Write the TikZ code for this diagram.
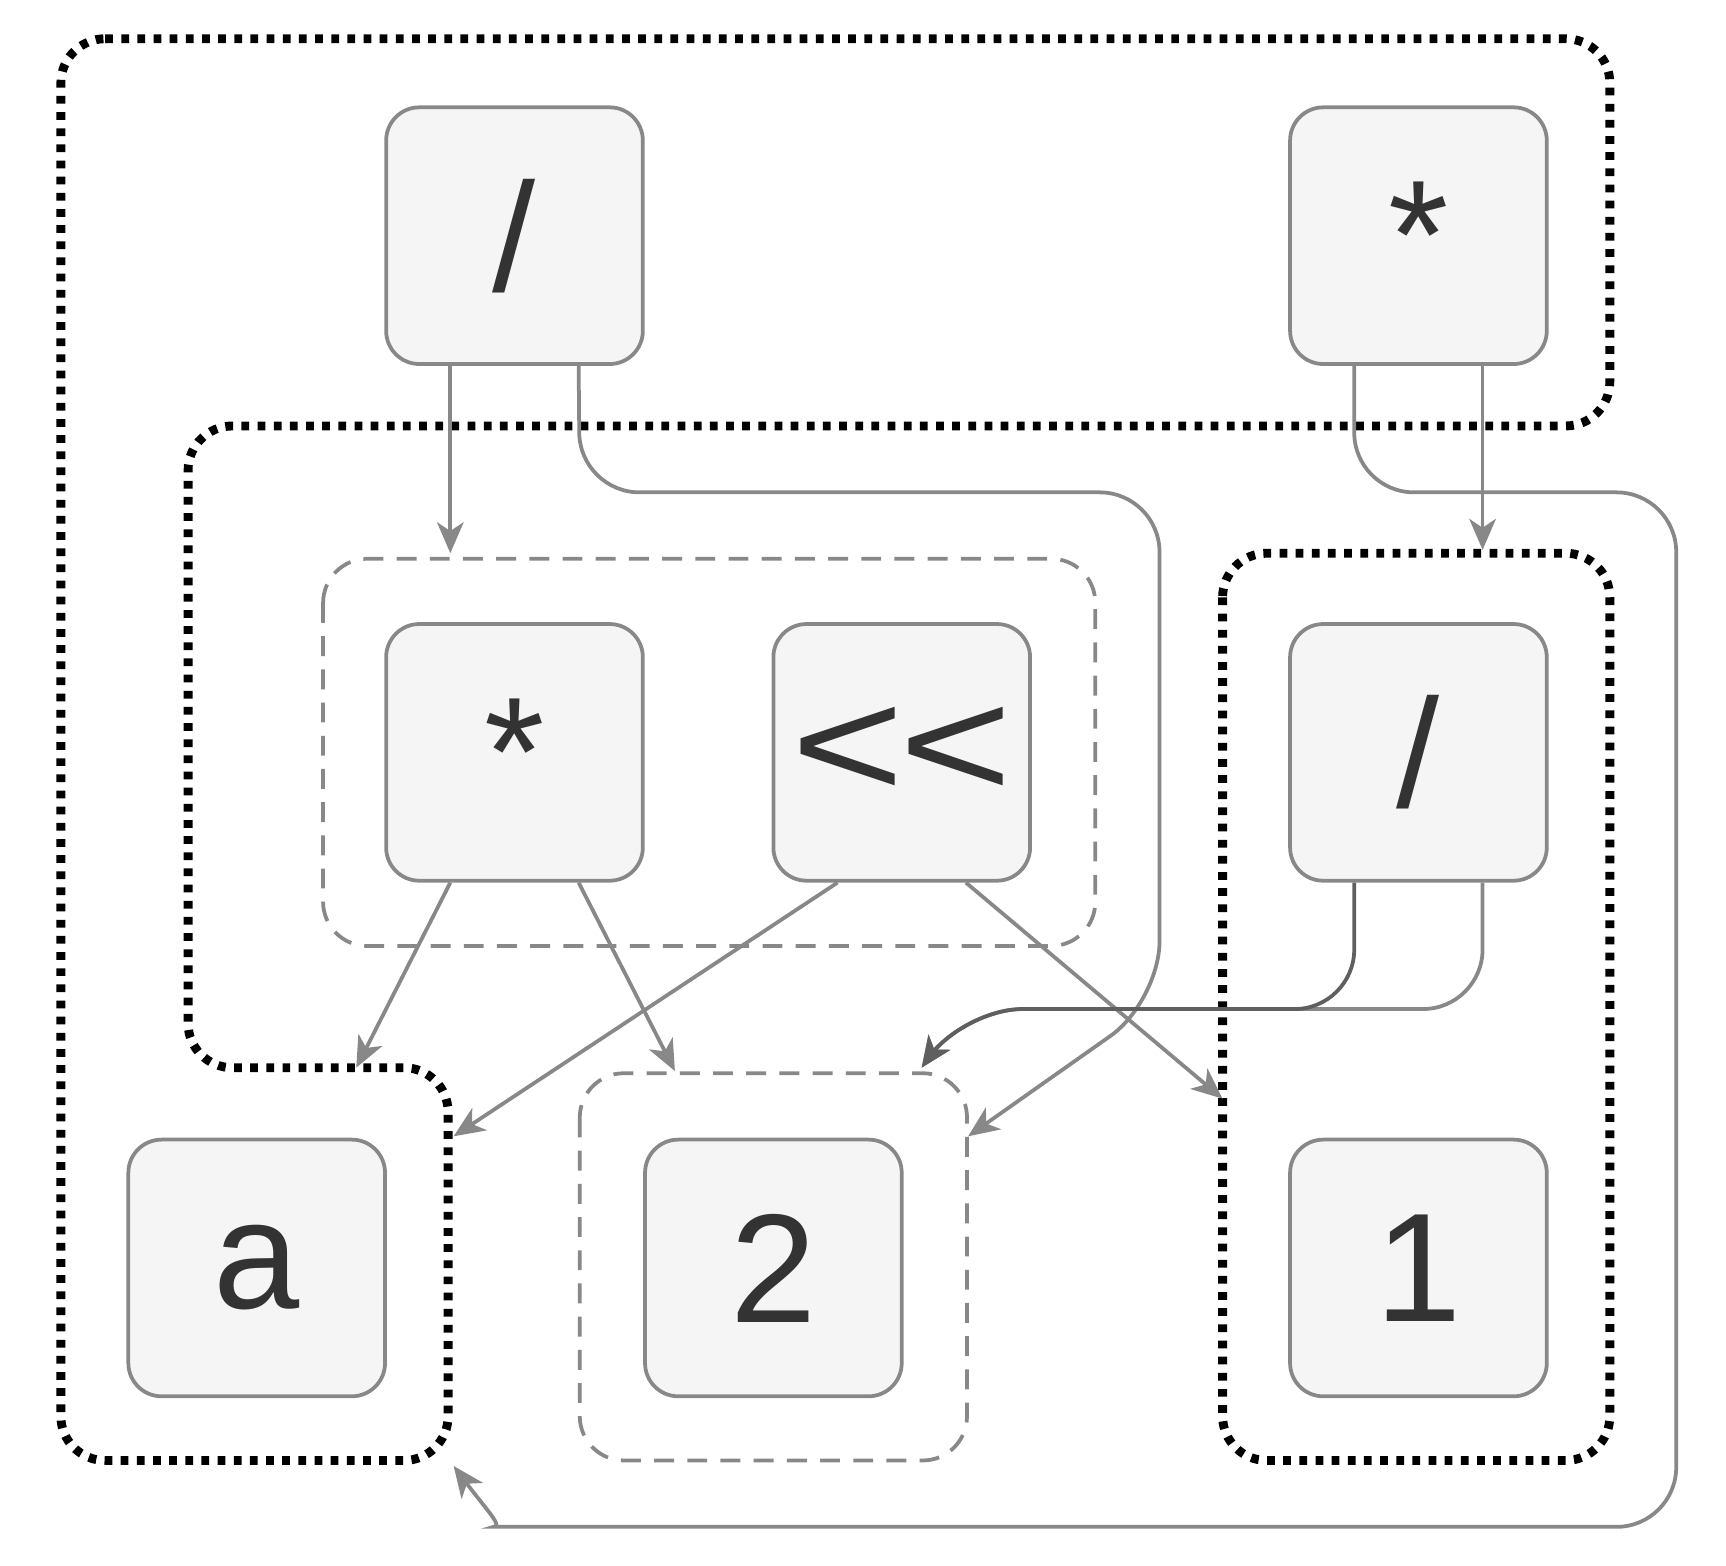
\documentclass[tikz,border=0pt]{standalone}
\usepackage{fontspec}
\setmainfont{Liberation Sans}
\usetikzlibrary{arrows.meta}
\definecolor{edge}{HTML}{888888}
\definecolor{fillc}{HTML}{F5F5F5}
\definecolor{txt}{HTML}{333333}
\begin{document}
\begin{tikzpicture}[x=0.5pt,y=-0.5pt,
  box/.style={draw=edge,fill=fillc,line width=1.7pt,rounded corners=15pt,minimum size=116pt,inner sep=0pt,text=txt,font=\fontsize{70}{72}\selectfont},
  conn/.style={draw=edge,line width=1.7pt,rounded corners=27pt,-{Stealth[length=14pt,width=12pt,inset=4pt]}},
  blk/.style={draw=black,line width=4pt,dash pattern=on 3.5pt off 3.8pt,rounded corners=20pt},
  gry/.style={draw=edge,line width=1.7pt,dash pattern=on 9pt off 6pt,rounded corners=20pt}]
\useasboundingbox (0,0) rectangle (1560,1415);
% groups
\draw[blk] (55,35) -- (1455,35) -- (1455,385) -- (170,385) -- (170,965) -- (405,965) -- (405,1320) -- (55,1320) -- cycle;
\draw[gry] (292,505) rectangle (990,855);
\draw[gry] (524,970) rectangle (874,1320);
\draw[blk] (1105,500) rectangle (1455,1320);
% nodes
\node[box] (d1) at (465,213) {/};
\node[box] (m1) at (1282,213) {*};
\node[box] (m2) at (465,680) {*};
\node[box] (sh) at (815,680) {\scalebox{1.25}[1]{\char`<\kern-2pt\char`<}};
\node[box] (d2) at (1282,680) {/};
\node[box] (a) at (232,1146) {a};
\node[box] (two) at (699,1146) {2};
\node[box] (one) at (1282,1146) {1};
% targets
\coordinate (t1) at (407,500);
\coordinate (t2) at (875,1027);
\coordinate (t3) at (1340,497);
\coordinate (t4) at (410,1325);
\coordinate (t5) at (322,965);
\coordinate (t6) at (610,968);
\coordinate (t7) at (410,1027);
\coordinate (t8) at (1105,993);
\coordinate (t9) at (833,965);
% edges
\draw[conn] ([xshift=-29pt]d1.south) -- (t1);
\draw[conn] ([xshift=29pt]d1.south) -- (524,445) -- (1048,445) -- (1048,905) -- (t2);
\draw[conn] ([xshift=29pt]m1.south) -- (t3);
\draw[conn] ([xshift=-29pt]m1.south) -- (1224,445) -- (1515,445) -- (1515,1380) -- (500,1380) .. controls (455,1380) and (440,1365) .. (t4);
\draw[conn,rounded corners=0pt] ([xshift=-29pt]m2.south) -- (t5);
\draw[conn,rounded corners=0pt] ([xshift=29pt]m2.south) -- (t6);
\draw[conn,rounded corners=0pt] ([xshift=-29pt]sh.south) -- (t7);
\draw[conn,rounded corners=0pt] ([xshift=29pt]sh.south) -- (t8);
\draw[conn] ([xshift=29pt]d2.south) -- (1340,912) -- (870,912) -- (t9);
\draw[conn,draw=edge!70!black] ([xshift=-29pt]d2.south) -- (1224,912) -- (870,912) -- (t9);
\end{tikzpicture}
\end{document}
